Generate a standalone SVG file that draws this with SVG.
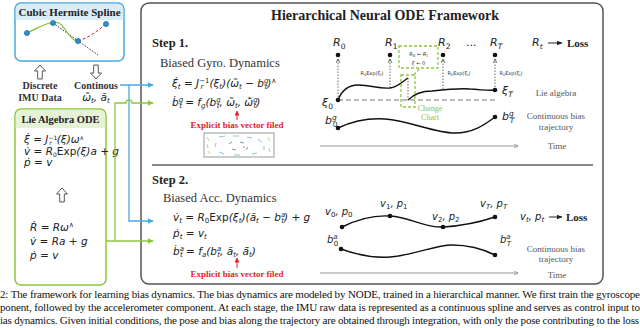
<svg xmlns="http://www.w3.org/2000/svg" width="640" height="328" viewBox="0 0 640 328">
<defs>
<style>
.ser{font-family:"Liberation Serif","Times New Roman",serif}
.b{font-weight:bold}
.m{font-family:"DejaVu Sans",sans-serif;font-style:italic;font-size:10.5px;fill:#222}
.up{font-style:normal}
.s{font-size:7px}
.lab{font-family:"Liberation Serif",serif;font-size:9px;fill:#555}
.red{fill:#e8202a}
.dot{fill:#111}
.curve{fill:none;stroke:#111;stroke-width:1.4}
.dv{fill:none;stroke:#444;stroke-width:0.8;stroke-dasharray:1.5 1.5}
.tiny{font-family:"DejaVu Sans",sans-serif;font-size:5px;fill:#333}
.gd{fill:none;stroke:#8cc63f;stroke-width:1.3;stroke-dasharray:3 2}
.hol{fill:#fff;stroke:#444;stroke-width:0.9}
</style>
<marker id="ab" viewBox="0 0 10 10" refX="9" refY="5" markerWidth="6" markerHeight="6" orient="auto" markerUnits="userSpaceOnUse"><path d="M0,0 L10,5 L0,10 z" fill="#4aa8e0"/></marker>
<marker id="ag" viewBox="0 0 10 10" refX="9" refY="5" markerWidth="6" markerHeight="6" orient="auto" markerUnits="userSpaceOnUse"><path d="M0,0 L10,5 L0,10 z" fill="#8cc63f"/></marker>
<marker id="ar" viewBox="0 0 10 10" refX="9" refY="5" markerWidth="5" markerHeight="5" orient="auto" markerUnits="userSpaceOnUse"><path d="M0,0 L10,5 L0,10 z" fill="#e8202a"/></marker>
<marker id="ak" viewBox="0 0 10 10" refX="9" refY="5" markerWidth="5" markerHeight="5" orient="auto" markerUnits="userSpaceOnUse"><path d="M1,1 L9,5 L1,9" fill="none" stroke="#444" stroke-width="1.5"/></marker>
<marker id="at" viewBox="0 0 10 10" refX="9" refY="5" markerWidth="5" markerHeight="5" orient="auto" markerUnits="userSpaceOnUse"><path d="M1,1 L9,5 L1,9" fill="none" stroke="#888" stroke-width="1.5"/></marker>
<marker id="aL" viewBox="0 0 10 10" refX="9" refY="5" markerWidth="6" markerHeight="6" orient="auto" markerUnits="userSpaceOnUse"><path d="M0,1 L10,5 L0,9 z" fill="#222"/></marker>
</defs>
<rect width="640" height="328" fill="#fff"/>

<g id="spline">
<rect x="15" y="3" width="109" height="58" rx="6" fill="#fff" stroke="#4aa8e0" stroke-width="1.5"/>
<path d="M15.75,20 V9 a5.25,5.25 0 0 1 5.25,-5.25 H118 a5.25,5.25 0 0 1 5.25,5.25 V20 z" fill="#d9ecf8"/>
<text class="ser b" x="69.5" y="16" font-size="11" text-anchor="middle" fill="#222">Cubic Hermite Spline</text>
<path d="M53,23 L98,55" stroke="#333" stroke-width="1" stroke-dasharray="1.5 1.5" fill="none"/>
<path d="M27,33 C38,28 47,22 55,22 C62,22 65,30 69,35 C72,39 75,41 78,41" stroke="#7cc03a" stroke-width="1.2" fill="none"/>
<path d="M78,41 C88,38 96,32 105,25" stroke="#e8202a" stroke-width="1" stroke-dasharray="3 2" fill="none"/>
<g fill="#2a8fd0" stroke="#1b5f8f" stroke-width="0.6">
<circle cx="27" cy="33" r="2.6"/><circle cx="53" cy="23" r="2.6"/><circle cx="78" cy="41" r="2.6"/><circle cx="106" cy="24" r="2.6"/>
</g>
</g>

<g id="imu-arrows">
<polygon class="hol" points="40,65 45.5,71 42.3,71 42.3,79 37.7,79 37.7,71 34.5,71"/>
<polygon class="hol" points="96,79 101.5,73 98.3,73 98.3,65 93.7,65 93.7,73 90.5,73"/>
<text class="ser b" x="40" y="89" font-size="10" text-anchor="middle" fill="#333">Discrete</text>
<text class="ser b" x="40" y="101" font-size="10" text-anchor="middle" fill="#333">IMU Data</text>
<text class="ser b" x="96" y="89" font-size="10" text-anchor="middle" fill="#333">Continous</text>
<text class="m" x="96" y="101" font-size="9" text-anchor="middle">ω̃<tspan class="s" dy="2">t</tspan><tspan dy="-2">, ã</tspan><tspan class="s" dy="2">t</tspan></text>
</g>

<g id="lie-ode">
<rect x="15" y="109" width="91" height="176" rx="6" fill="#fff" stroke="#8cc63f" stroke-width="1.5"/>
<path d="M15.75,128 V115 a5.25,5.25 0 0 1 5.25,-5.25 H100 a5.25,5.25 0 0 1 5.25,5.25 V128 z" fill="#e6f2d6"/>
<text class="ser b" x="60.5" y="123" font-size="10.5" text-anchor="middle" fill="#222">Lie Algebra ODE</text>
<text class="m" x="24" y="143" font-size="8.5">ξ̇ = J<tspan font-size="6" class="up" dy="-3">−1</tspan><tspan font-size="6" dx="-8" dy="5">r</tspan><tspan dx="5" dy="-2">(ξ)ω</tspan><tspan font-size="6" dy="-3">∧</tspan></text>
<text class="m" x="24" y="155" font-size="8.5">v̇ = R<tspan font-size="6" class="up" dy="2">0</tspan><tspan class="up" dy="-2">Exp</tspan>(ξ)a + g</text>
<text class="m" x="24" y="166" font-size="8.5">ṗ = v</text>
<polygon class="hol" points="62,188 67.5,194 64.3,194 64.3,202 59.7,202 59.7,194 56.5,194"/>
<text class="m" x="30" y="231" font-size="10">Ṙ = Rω<tspan font-size="7" dy="-4">∧</tspan></text>
<text class="m" x="30" y="245" font-size="10">v̇ = Ra + g</text>
<text class="m" x="30" y="259" font-size="10">ṗ = v</text>
</g>

<g id="framework">
<rect x="141" y="3" width="462" height="281" rx="8" fill="none" stroke="#555" stroke-width="1.5"/>
<text class="ser b" x="385" y="20" font-size="14" text-anchor="middle" fill="#222">Hierarchical Neural ODE Framework</text>
<line x1="152" y1="165" x2="593" y2="165" stroke="#888" stroke-width="2"/>
</g>

<g id="step1">
<text class="ser b" x="152" y="47" font-size="12.5" fill="#222">Step 1.</text>
<text class="ser" x="160" y="67" font-size="12.5" fill="#333">Biased Gyro. Dynamics</text>
<text class="m" x="172" y="87">ξ̇<tspan class="s" dy="2">t</tspan><tspan dy="-2"> = J</tspan><tspan class="s up" dy="-4">−1</tspan><tspan class="s" dx="-9" dy="6">r</tspan><tspan dx="6" dy="-2">(ξ</tspan><tspan class="s" dy="2">t</tspan><tspan dy="-2">)(ω̃</tspan><tspan class="s" dy="2">t</tspan><tspan dy="-2"> − b</tspan><tspan class="s" dy="-4">g</tspan><tspan class="s" dx="-4" dy="6">t</tspan><tspan dy="-2">)</tspan><tspan class="s" dy="-4">∧</tspan></text>
<text class="m" x="172" y="106">ḃ<tspan class="s" dy="-4">g</tspan><tspan class="s" dx="-4" dy="6">t</tspan><tspan dy="-2"> = f</tspan><tspan class="s" dy="2">g</tspan><tspan dy="-2">(b</tspan><tspan class="s" dy="-4">g</tspan><tspan class="s" dx="-4" dy="6">t</tspan><tspan dy="-2">, ω̃</tspan><tspan class="s" dy="2">t</tspan><tspan dy="-2">, ω̃̇</tspan><tspan class="s" dy="-4">g</tspan><tspan class="s" dx="-4" dy="6">t</tspan><tspan dy="-2">)</tspan></text>
<line x1="237" y1="120" x2="237" y2="111" stroke="#e8202a" stroke-width="1" marker-end="url(#ar)"/>
<text class="ser b red" x="237" y="128" font-size="9" text-anchor="middle">Explicit bias vector filed</text>
<g id="vector-field">
<rect x="204" y="133" width="70" height="24" fill="#fff" stroke="#999" stroke-width="1"/>
<g stroke-width="0.8" fill="none">
<path d="M207,137 l2,4 M207,144 l1,4 M208,151 l2,3" stroke="#9cd35a"/>
<path d="M219,137 l6,-1 M233,136 l6,0 M247,137 l5,1 M258,139 l4,3 M264,146 l0,4 M257,153 l-5,1 M240,155 l-6,0 M224,154 l-5,-2 M215,147 l1,-4" stroke="#6fb8c8"/>
<path d="M229,144 l3,-2 M240,142 l4,1 M248,147 l-2,3 M236,150 l-4,-1 M244,146 l0,2" stroke="#4a7d99"/>
<path d="M268,137 l2,4 M269,148 l1,4" stroke="#9cd35a"/>
</g>
</g>
</g>

<g id="step1-plot">
<g font-family="DejaVu Sans,sans-serif" font-style="italic" font-size="11" fill="#222">
<text x="333" y="46">R<tspan font-size="7.5" font-style="normal" dy="3">0</tspan></text>
<text x="385" y="46">R<tspan font-size="7.5" font-style="normal" dy="3">1</tspan></text>
<text x="438" y="46">R<tspan font-size="7.5" font-style="normal" dy="3">2</tspan></text>
<text x="466" y="46" font-style="normal">...</text>
<text x="490" y="46">R<tspan font-size="7.5" dy="3">T</tspan></text>
<text x="532" y="46">R<tspan font-size="7.5" dy="3">t</tspan></text>
<text x="322" y="106">ξ<tspan font-size="7.5" font-style="normal" dy="3">0</tspan></text>
<text x="502" y="94">ξ<tspan font-size="7.5" dy="3">T</tspan></text>
<text x="325" y="124">b<tspan font-size="7.5" dy="-4">g</tspan><tspan font-size="7.5" font-style="normal" dx="-4" dy="7">0</tspan></text>
<text x="502" y="120">b<tspan font-size="7.5" dy="-4">g</tspan><tspan font-size="7.5" dx="-4" dy="7">T</tspan></text>
</g>
<line x1="548" y1="43" x2="562" y2="43" stroke="#222" stroke-width="1" marker-end="url(#aL)"/>
<text class="ser b" x="567" y="47" font-size="11" fill="#222">Loss</text>
<line x1="338" y1="100" x2="497" y2="100" stroke="#777" stroke-width="1" stroke-dasharray="5 3"/>
<path class="dv" d="M338,100 V59" marker-end="url(#ak)"/>
<path class="dv" d="M390,88 V59" marker-end="url(#ak)"/>
<path class="dv" d="M443,89 V59" marker-end="url(#ak)"/>
<path class="dv" d="M495,90 V59" marker-end="url(#ak)"/>
<path class="dv" d="M408,78 V100"/>
<text class="tiny" x="372" y="75" text-anchor="middle">R<tspan font-size="3.5" dy="1">0</tspan><tspan dy="-1">Exp(ξ</tspan><tspan font-size="3.5" dy="1">t</tspan><tspan dy="-1">)</tspan></text>
<text class="tiny" x="459" y="75" text-anchor="middle">R<tspan font-size="3.5" dy="1">0</tspan><tspan dy="-1">Exp(ξ</tspan><tspan font-size="3.5" dy="1">t</tspan><tspan dy="-1">)</tspan></text>
<text class="tiny" x="511" y="75" text-anchor="middle">R<tspan font-size="3.5" dy="1">0</tspan><tspan dy="-1">Exp(ξ</tspan><tspan font-size="3.5" dy="1">t</tspan><tspan dy="-1">)</tspan></text>
<path class="curve" d="M338,100 C342,90 348,85 358,85 C372,85 378,89 390,88 C398,87 403,81 408,78"/>
<path class="curve" d="M408,100 C415,93 422,91 432,91 C450,89 460,88 470,89 C485,90 490,91 495,90"/>
<path class="curve" d="M338,128 C355,120 370,118 385,119 C410,121 435,133 455,133 C475,133 488,122 495,117"/>
<g class="dot"><circle cx="338" cy="55" r="2.3"/><circle cx="390" cy="55" r="2.3"/><circle cx="443" cy="55" r="2.3"/><circle cx="495" cy="55" r="2.3"/><circle cx="338" cy="100" r="2.3"/><circle cx="495" cy="90" r="2.3"/><circle cx="338" cy="128" r="2.3"/><circle cx="495" cy="117" r="2.3"/></g>
<rect class="gd" x="399" y="46" width="39" height="22"/>
<rect class="gd" x="401" y="75" width="14" height="32"/>
<line class="gd" x1="414" y1="75" x2="420" y2="68"/>
<text class="tiny" x="418.5" y="56" text-anchor="middle" font-size="5.5" font-style="italic">R<tspan font-size="4" font-style="normal" dy="1">0</tspan><tspan dy="-1"> ← R</tspan><tspan font-size="4" dy="1">t</tspan></text>
<text class="tiny" x="418.5" y="65" text-anchor="middle" font-size="5.5" font-style="italic">ξ ← <tspan font-style="normal">0</tspan></text>
<text class="ser" x="430" y="111" font-size="8" text-anchor="middle" fill="#8cc63f">Change</text>
<text class="ser" x="430" y="120" font-size="8" text-anchor="middle" fill="#8cc63f">Chart</text>
<text class="lab" x="556" y="96" text-anchor="middle">Lie algebra</text>
<text class="lab" x="556" y="119" text-anchor="middle">Continuous bias</text>
<text class="lab" x="556" y="130" text-anchor="middle">trajectory</text>
<line x1="320" y1="146" x2="518" y2="146" stroke="#999" stroke-width="1" marker-end="url(#at)"/>
<text class="lab" x="557" y="149" text-anchor="middle">Time</text>
</g>

<g id="step2">
<text class="ser b" x="152" y="184" font-size="12.5" fill="#222">Step 2.</text>
<text class="ser" x="163" y="202" font-size="12.5" fill="#333">Biased Acc. Dynamics</text>
<text class="m" x="173" y="221">v̇<tspan class="s" dy="2">t</tspan><tspan dy="-2"> = R</tspan><tspan class="s up" dy="2">0</tspan><tspan class="up" dy="-2">Exp</tspan>(ξ<tspan class="s" dy="2">t</tspan><tspan dy="-2">)(ã</tspan><tspan class="s" dy="2">t</tspan><tspan dy="-2"> − b</tspan><tspan class="s" dy="-4">a</tspan><tspan class="s" dx="-4" dy="6">t</tspan><tspan dy="-2">) + g</tspan></text>
<text class="m" x="173" y="237">ṗ<tspan class="s" dy="2">t</tspan><tspan dy="-2"> = v</tspan><tspan class="s" dy="2">t</tspan></text>
<text class="m" x="173" y="255">ḃ<tspan class="s" dy="-4">a</tspan><tspan class="s" dx="-4" dy="6">t</tspan><tspan dy="-2"> = f</tspan><tspan class="s" dy="2">a</tspan><tspan dy="-2">(b</tspan><tspan class="s" dy="-4">a</tspan><tspan class="s" dx="-4" dy="6">t</tspan><tspan dy="-2">, ã</tspan><tspan class="s" dy="2">t</tspan><tspan dy="-2">, ã̇</tspan><tspan class="s" dy="2">t</tspan><tspan dy="-2">)</tspan></text>
<line x1="237" y1="268" x2="237" y2="258" stroke="#e8202a" stroke-width="1" marker-end="url(#ar)"/>
<text class="ser b red" x="237" y="277" font-size="9" text-anchor="middle">Explicit bias vector filed</text>
</g>

<g id="step2-plot">
<g font-family="DejaVu Sans,sans-serif" font-style="italic" font-size="10" fill="#222">
<text x="325" y="215">v<tspan font-size="7" font-style="normal" dy="2">0</tspan><tspan dy="-2">, p</tspan><tspan font-size="7" font-style="normal" dy="2">0</tspan></text>
<text x="380" y="207">v<tspan font-size="7" font-style="normal" dy="2">1</tspan><tspan dy="-2">, p</tspan><tspan font-size="7" font-style="normal" dy="2">1</tspan></text>
<text x="432" y="220">v<tspan font-size="7" font-style="normal" dy="2">2</tspan><tspan dy="-2">, p</tspan><tspan font-size="7" font-style="normal" dy="2">2</tspan></text>
<text x="480" y="207">v<tspan font-size="7" dy="2">T</tspan><tspan dy="-2">, p</tspan><tspan font-size="7" dy="2">T</tspan></text>
<text x="520" y="220">v<tspan font-size="7" dy="2">t</tspan><tspan dy="-2">, p</tspan><tspan font-size="7" dy="2">t</tspan></text>
<text x="327" y="243">b<tspan font-size="7" dy="-4">a</tspan><tspan font-size="7" font-style="normal" dx="-4" dy="7">0</tspan></text>
<text x="500" y="243">b<tspan font-size="7" dy="-4">a</tspan><tspan font-size="7" dx="-4" dy="7">T</tspan></text>
</g>
<line x1="549" y1="217" x2="562" y2="217" stroke="#222" stroke-width="1" marker-end="url(#aL)"/>
<text class="ser b" x="566" y="221" font-size="11" fill="#222">Loss</text>
<path class="curve" d="M342,227 C360,218 375,215 390,216 C410,217 425,228 443,227 C460,226 480,222 495,217"/>
<path class="curve" d="M341,249 C360,256 375,258 390,257 C415,255 435,245 452,245 C470,245 485,250 495,255"/>
<g class="dot"><circle cx="342" cy="227" r="2.3"/><circle cx="390" cy="216" r="2.3"/><circle cx="443" cy="227" r="2.3"/><circle cx="495" cy="217" r="2.3"/><circle cx="341" cy="249" r="2.3"/><circle cx="495" cy="255" r="2.3"/></g>
<text class="lab" x="556" y="252" text-anchor="middle">Continuous bias</text>
<text class="lab" x="556" y="262" text-anchor="middle">trajectory</text>
<line x1="320" y1="273" x2="518" y2="273" stroke="#999" stroke-width="1" marker-end="url(#at)"/>
<text class="lab" x="557" y="278" text-anchor="middle">Time</text>
</g>

<g id="connectors" fill="none" stroke-width="1.3">
<path d="M120,85 H153" stroke="#4aa8e0" marker-end="url(#ab)"/>
<path d="M129,85 V221 H153" stroke="#4aa8e0" marker-end="url(#ab)"/>
<path d="M106,241 H153" stroke="#8cc63f" marker-end="url(#ag)"/>
<path d="M115,241 V103 H126 A3,3 0 0 1 132,103 H153" stroke="#8cc63f" marker-end="url(#ag)"/>
</g>

<g id="caption" class="ser" font-size="11" fill="#111">
<text x="0" y="298" textLength="640" lengthAdjust="spacing">2: The framework for learning bias dynamics. The bias dynamics are modeled by NODE, trained in a hierarchical manner. We first train the gyroscope</text>
<text x="0" y="311" textLength="640" lengthAdjust="spacing">ponent, followed by the accelerometer component. At each stage, the IMU raw data is represented as a continuous spline and serves as control input to</text>
<text x="0" y="324" textLength="639" lengthAdjust="spacing">ias dynamics. Given initial conditions, the pose and bias along the trajectory are obtained through integration, with only the pose contributing to the loss</text>
</g>
</svg>
